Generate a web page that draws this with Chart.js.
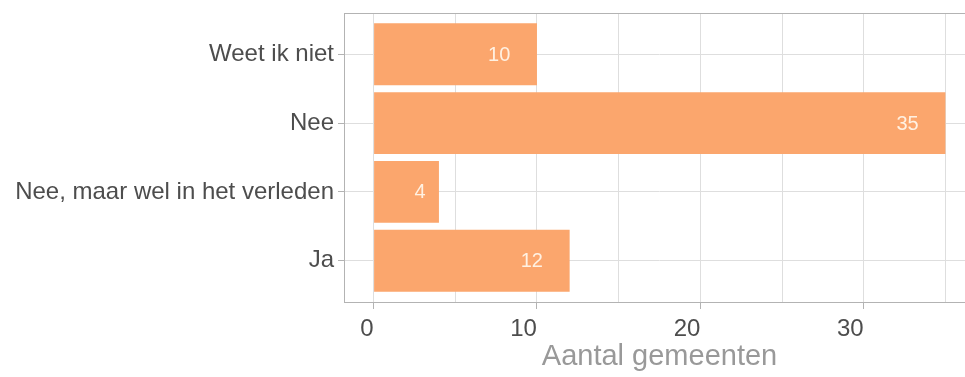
<!DOCTYPE html>
<html>
<head>
<meta charset="utf-8">
<script src="https://cdn.jsdelivr.net/npm/chart.js@4"></script>
<style>
  html, body { margin: 0; padding: 0; background: #fff; overflow: hidden; }
  #wrap { width: 980px; height: 377px; position: relative; }
</style>
</head>
<body>
<div id="wrap"><canvas id="c"></canvas></div>
<script>
// Data (bottom to top, as in the chart)
const categories = ["Ja", "Nee, maar wel in het verleden", "Nee", "Weet ik niet"];
const values = [12, 4, 35, 10];
const majorTicks = [0, 10, 20, 30];
const minorTicks = [5, 15, 25, 35];
const xTitle = "Aantal gemeenten";

const FONT = "'Liberation Sans', Arial, sans-serif";
const GRID = '#DEDEDE';
const BORDER = '#B3B3B3';
const TEXT = '#4D4D4D';

const barLabels = {
  id: 'barLabels',
  afterDatasetsDraw(chart) {
    const ctx = chart.ctx;
    const meta = chart.getDatasetMeta(0);
    const xs = chart.scales.x;
    ctx.save();
    ctx.font = '20px ' + FONT;
    ctx.fillStyle = '#FFF1E2';
    ctx.textAlign = 'left';
    ctx.textBaseline = 'middle';
    meta.data.forEach((bar, i) => {
      const txt = String(values[i]);
      const w = ctx.measureText(txt).width;
      const x = xs.getPixelForValue(values[i]) - 2.2 * w;
      ctx.fillText(txt, x, bar.y + 1);
    });
    ctx.restore();
  }
};

const panelBorder = {
  id: 'panelBorder',
  afterDatasetsDraw(chart) {
    const {left, top, right, bottom} = chart.chartArea;
    const ctx = chart.ctx;
    ctx.save();
    ctx.strokeStyle = BORDER;
    ctx.lineWidth = 1;
    ctx.strokeRect(Math.round(left) - 0.5, Math.round(top) + 0.5, Math.round(right - left), Math.round(bottom - top));
    ctx.restore();
  }
};

const allX = majorTicks.concat(minorTicks).sort((a, b) => a - b);

new Chart(document.getElementById('c'), {
  type: 'bar',
  data: {
    datasets: [{
      data: values.map((v, i) => ({x: v, y: i + 1})),
      backgroundColor: '#FBA66D',
      borderWidth: 0,
      categoryPercentage: 0.9,
      barPercentage: 1.0
    }]
  },
  options: {
    indexAxis: 'y',
    responsive: true,
    maintainAspectRatio: false,
    animation: false,
    layout: { padding: { top: 13, right: 6, left: 0, bottom: 0 } },
    plugins: { legend: { display: false }, tooltip: { enabled: false } },
    scales: {
      x: {
        type: 'linear',
        min: -1.75,
        max: 36.75,
        offset: false,
        afterBuildTicks(scale) { scale.ticks = allX.map(v => ({value: v})); },
        afterFit(scale) { scale.height = 75; scale.paddingLeft = 0; scale.paddingRight = 0; },
        border: { display: false },
        grid: {
          color: GRID,
          lineWidth: 1,
          offset: false,
          drawTicks: true,
          tickLength: 7,
          tickColor: (ctx) => (ctx.tick && majorTicks.includes(ctx.tick.value)) ? BORDER : 'rgba(0,0,0,0)'
        },
        ticks: {
          autoSkip: false,
          maxRotation: 0,
          align: 'end',
          padding: 6,
          color: TEXT,
          font: { family: FONT, size: 24 },
          callback: (v) => majorTicks.includes(v) ? String(v) : ''
        },
        title: {
          display: true,
          text: xTitle,
          color: '#999999',
          font: { family: FONT, size: 29 },
          padding: { top: 0, bottom: 3 }
        }
      },
      y: {
        type: 'linear',
        min: 0.4,
        max: 4.6,
        offset: false,
        afterBuildTicks(scale) { scale.ticks = categories.map((c, i) => ({value: i + 1})); },
        afterFit(scale) { scale.width = 345; scale.paddingTop = 0; scale.paddingBottom = 0; },
        border: { display: false },
        grid: {
          color: GRID,
          lineWidth: 1,
          offset: false,
          drawTicks: true,
          tickLength: 7,
          tickColor: BORDER
        },
        ticks: {
          autoSkip: false,
          padding: 4,
          color: TEXT,
          font: { family: FONT, size: 24 },
          callback: (v) => categories[Math.round(v) - 1] || ''
        }
      }
    }
  },
  plugins: [barLabels, panelBorder]
});
</script>
</body>
</html>
